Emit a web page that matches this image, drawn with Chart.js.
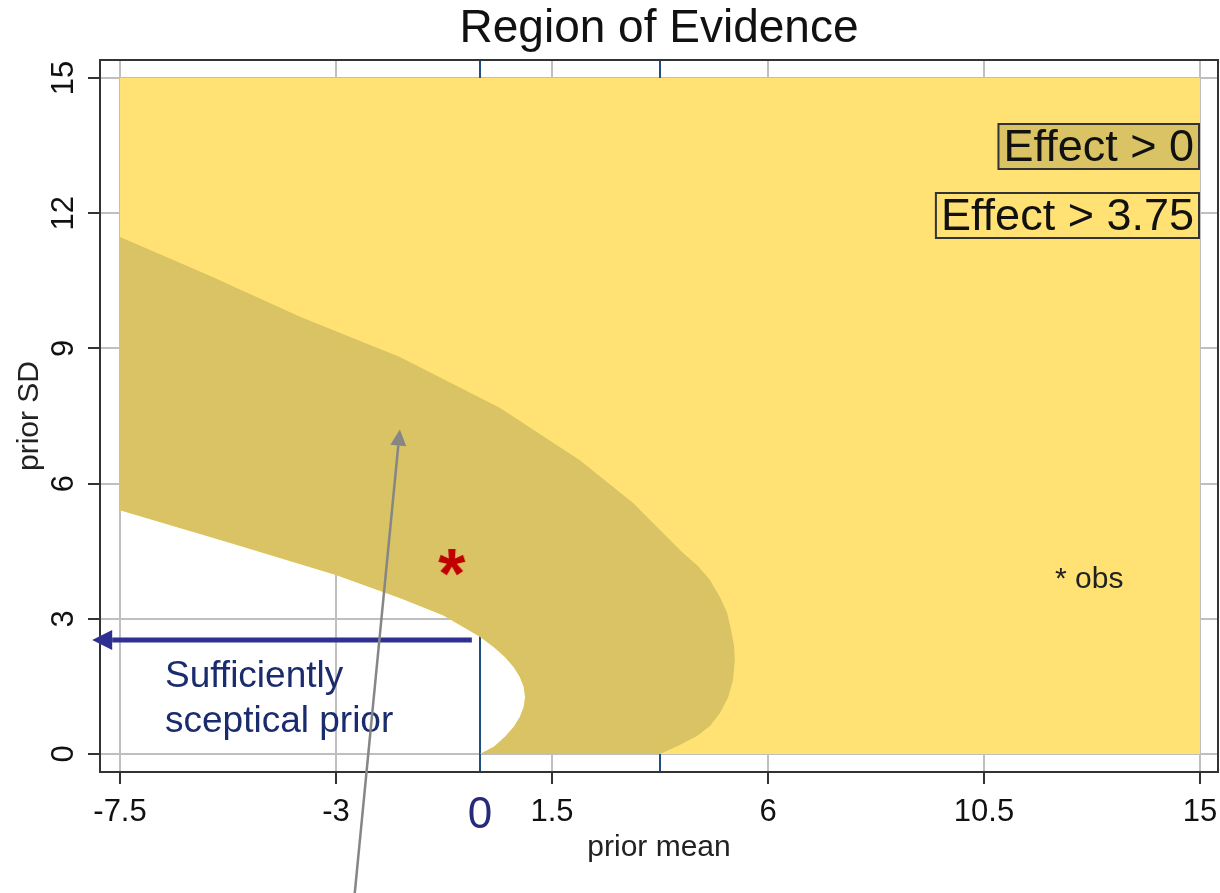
<!DOCTYPE html>
<html>
<head>
<meta charset="utf-8">
<title>Region of Evidence</title>
<script src="https://cdn.jsdelivr.net/npm/chart.js@4.4.1/dist/chart.umd.min.js"></script>
<style>
  body { margin: 0; background: #ffffff; overflow: hidden; }
  canvas { display: block; }
</style>
</head>
<body>
<canvas id="myChart" width="1220" height="893"></canvas>
<script>
// tick labels
const xTicks = [-7.5, -3, 1.5, 6, 10.5, 15];
const yTicks = [0, 3, 6, 9, 12, 15];

// reference lines (xline in the original)
const xLines = [0, 3.75];

// prior mean / prior SD grid that was evaluated
const gridMean = [-7.5, 15];
const gridSD = [0, 15];

// edge of the "Effect > 0" region, from (0,0) round the tip up to the left edge
const innerMean = [0, 0.29, 0.52, 0.70, 0.83, 0.91, 0.94, 0.91, 0.83, 0.70, 0.52, 0.29, 0,
    -0.42, -0.77, -1.67, -3.0, -5.25, -7.5];
const innerSD = [0, 0.16, 0.38, 0.60, 0.82, 1.04, 1.26, 1.49, 1.71, 1.93, 2.15, 2.37, 2.60,
    2.86, 3.08, 3.46, 3.97, 4.70, 5.41];

// edge of the "Effect > 3.75" region, from (3.75,0) round the bulge up to the left edge
const outerMean = [3.75, 4.13, 4.52, 4.79, 5.0, 5.17, 5.27, 5.31, 5.29, 5.23, 5.15, 5.0, 4.79,
    4.54, 4.23, 3.75, 3.19, 2.08, 0.42, -1.67, -3.75, -5.63, -7.5];
const outerSD = [0, 0.18, 0.40, 0.62, 0.91, 1.26, 1.64, 2.09, 2.42, 2.75, 3.13, 3.48, 3.86,
    4.17, 4.46, 4.97, 5.57, 6.52, 7.68, 8.81, 9.70, 10.61, 11.47];

// observed estimate
const obsMean = [-0.58];
const obsSD = [4.26];

const FONT = '"Liberation Sans", Arial, Helvetica, sans-serif';
const YELLOW = '#ffe273';
const KHAKI = '#d9c364';
const NAVY = '#1b2c6e';

Chart.defaults.font.family = FONT;

function pts(xs, ys) {
    return xs.map((x, i) => ({ x: x, y: ys[i] }));
}

const inner = pts(innerMean, innerSD);
const outer = pts(outerMean, outerSD);

// light region: whole grid minus the white "not convincing" part
const yellowShape = [
    { x: gridMean[1], y: gridSD[1] },
    { x: gridMean[1], y: gridSD[0] }
].concat(inner, [{ x: gridMean[0], y: gridSD[1] }]);

// dark band between the two edges
const khakiShape = outer.concat(inner.slice().reverse());

// red asterisk used as point style
function asteriskImage() {
    const c = document.createElement('canvas');
    c.width = 40;
    c.height = 40;
    const g = c.getContext('2d');
    g.fillStyle = '#c00000';
    g.font = 'bold 70px ' + FONT;
    const m = g.measureText('*');
    const w = m.actualBoundingBoxLeft + m.actualBoundingBoxRight;
    const h = m.actualBoundingBoxAscent + m.actualBoundingBoxDescent;
    g.fillText('*', 20 - w / 2 + m.actualBoundingBoxLeft, 20 - h / 2 + m.actualBoundingBoxAscent);
    return c;
}

const datasets = [];

xLines.forEach(v => {
    datasets.push({
        data: [{ x: v, y: -0.4 }, { x: v, y: 15.4 }],
        borderColor: '#1f4f80',
        borderWidth: 2,
        pointRadius: 0,
        fill: false,
        order: 10
    });
});

datasets.push({
    data: yellowShape,
    backgroundColor: YELLOW,
    borderWidth: 0,
    pointRadius: 0,
    tension: 0,
    fill: 'shape',
    order: 3
});

datasets.push({
    data: khakiShape,
    backgroundColor: KHAKI,
    borderWidth: 0,
    pointRadius: 0,
    tension: 0,
    fill: 'shape',
    order: 2
});

datasets.push({
    data: pts(obsMean, obsSD),
    showLine: false,
    pointStyle: asteriskImage(),
    pointRadius: 14,
    order: 0
});

function arrow(ctx, x1, y1, x2, y2, color, width, headLen, headHalf) {
    const a = Math.atan2(y2 - y1, x2 - x1);
    const bx = x2 - headLen * Math.cos(a);
    const by = y2 - headLen * Math.sin(a);
    ctx.strokeStyle = color;
    ctx.fillStyle = color;
    ctx.lineWidth = width;
    ctx.beginPath();
    ctx.moveTo(x1, y1);
    ctx.lineTo(bx, by);
    ctx.stroke();
    ctx.beginPath();
    ctx.moveTo(x2, y2);
    ctx.lineTo(bx + headHalf * Math.sin(a), by - headHalf * Math.cos(a));
    ctx.lineTo(bx - headHalf * Math.sin(a), by + headHalf * Math.cos(a));
    ctx.closePath();
    ctx.fill();
}

function legendBox(ctx, text, right, top, height, fill) {
    ctx.font = '45px ' + FONT;
    const w = ctx.measureText(text).width;
    ctx.fillStyle = fill;
    ctx.fillRect(right - w - 10, top, w + 10, height);
    ctx.strokeStyle = '#333';
    ctx.lineWidth = 2;
    ctx.strokeRect(right - w - 10, top, w + 10, height);
    ctx.fillStyle = '#111';
    ctx.textAlign = 'right';
    ctx.textBaseline = 'middle';
    ctx.fillText(text, right - 5, top + height / 2 + 2);
}

const annotations = {
    id: 'annotations',
    afterDraw(chart) {
        const ctx = chart.ctx;
        const a = chart.chartArea;
        const xs = chart.scales.x;
        const ys = chart.scales.y;
        ctx.save();

        // plot box
        ctx.strokeStyle = '#333';
        ctx.lineWidth = 2;
        ctx.strokeRect(a.left, a.top, a.right - a.left, a.bottom - a.top);

        // rotated y tick labels
        ctx.fillStyle = '#111';
        ctx.font = '31px ' + FONT;
        ctx.textAlign = 'center';
        ctx.textBaseline = 'middle';
        yTicks.forEach(v => {
            ctx.save();
            ctx.translate(64, ys.getPixelForValue(v));
            ctx.rotate(-Math.PI / 2);
            ctx.fillText(String(v), 0, 0);
            ctx.restore();
        });

        // legend boxes
        legendBox(ctx, 'Effect > 0', 1199, 124, 45, KHAKI);
        legendBox(ctx, 'Effect > 3.75', 1199, 193, 45, YELLOW);

        // obs note
        ctx.fillStyle = '#222';
        ctx.font = '30px ' + FONT;
        ctx.textAlign = 'left';
        ctx.textBaseline = 'alphabetic';
        ctx.fillText('* obs', 1055, 588);

        // big zero under the axis
        ctx.fillStyle = '#262a78';
        ctx.font = '44px ' + FONT;
        ctx.textAlign = 'center';
        ctx.fillText('0', xs.getPixelForValue(0), 828);

        // sceptical prior arrow and text
        const ay = ys.getPixelForValue(2.53);
        arrow(ctx, xs.getPixelForValue(-0.17), ay, xs.getPixelForValue(-8.08), ay, '#2e3192', 5, 20, 10);
        ctx.fillStyle = NAVY;
        ctx.font = '37px ' + FONT;
        ctx.textAlign = 'left';
        ctx.fillText('Sufficiently', 165, 687);
        ctx.fillText('sceptical prior', 165, 732);

        // grey pointer into the dark band
        arrow(ctx, xs.getPixelForValue(-2.62), ys.getPixelForValue(-3.2),
            xs.getPixelForValue(-1.67), ys.getPixelForValue(7.2), '#868686', 2.5, 16, 8);

        ctx.restore();
    }
};

const config = {
    type: 'line',
    data: { datasets: datasets },
    options: {
        responsive: false,
        animation: false,
        devicePixelRatio: 1,
        layout: { autoPadding: false, padding: { right: 2 } },
        plugins: {
            legend: { display: false },
            tooltip: { enabled: false },
            title: {
                display: true,
                text: 'Region of Evidence',
                fullSize: false,
                color: '#111',
                font: { size: 46, weight: 'normal' },
                padding: { top: 2, bottom: 2.8 }
            }
        },
        scales: {
            x: {
                type: 'linear',
                min: -7.917,
                max: 15.375,
                afterBuildTicks: s => { s.ticks = xTicks.map(v => ({ value: v })); },
                afterFit: s => {
                    s.height = 121;
                    s.paddingLeft = 0;
                    s.paddingRight = 0;
                },
                ticks: {
                    color: '#111',
                    font: { size: 31 },
                    padding: 10,
                    maxRotation: 0,
                    autoSkip: false,
                    callback: v => String(v)
                },
                grid: { color: '#bfbfbf', lineWidth: 2, tickColor: '#333', tickLength: 12 },
                border: { color: '#333', width: 2 },
                title: {
                    display: true,
                    text: 'prior mean',
                    color: '#222',
                    font: { size: 30 },
                    padding: { top: 0, bottom: 27 }
                }
            },
            y: {
                type: 'linear',
                min: -0.4,
                max: 15.4,
                afterBuildTicks: s => { s.ticks = yTicks.map(v => ({ value: v })); },
                afterFit: s => { s.width = 100; },
                ticks: { display: false },
                grid: { color: '#bfbfbf', lineWidth: 2, tickColor: '#333', tickLength: 12 },
                border: { color: '#333', width: 2 },
                title: {
                    display: true,
                    text: 'prior SD',
                    color: '#222',
                    font: { size: 30 },
                    padding: { top: 12, bottom: 0 }
                }
            }
        }
    },
    plugins: [annotations]
};

const myChart = new Chart(document.getElementById('myChart'), config);
</script>
</body>
</html>
